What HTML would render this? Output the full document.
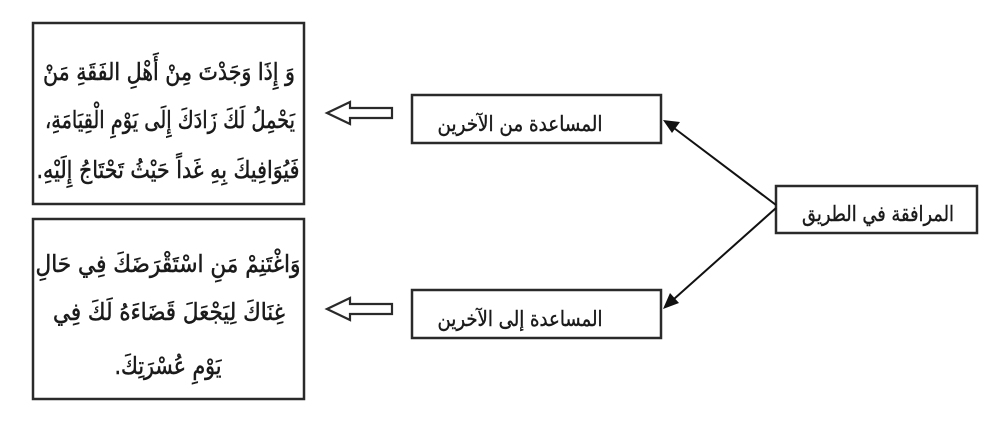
<!DOCTYPE html>
<html><head><meta charset="utf-8"><style>body{margin:0;background:#fff}svg{display:block}</style></head>
<body>
<svg width="1000" height="421" viewBox="0 0 1000 421" xmlns="http://www.w3.org/2000/svg" font-family="'DejaVu Sans', 'Noto Sans CJK SC', sans-serif" fill="#1a1a1a">
<g fill="none" stroke="#2a2a2a" stroke-width="2.5">
<rect x="33" y="23" width="271" height="181"/>
<rect x="33" y="219" width="271" height="180"/>
<rect x="412" y="95" width="249" height="48"/>
<rect x="412" y="290" width="249" height="48"/>
<rect x="776" y="186" width="201" height="47"/>
</g>
<g fill="#fff" stroke="#2a2a2a" stroke-width="2.2">
<path d="M327 113 L350 102 L350 108 L392 108 L392 118 L350 118 L350 124 Z"/>
<path d="M327 309 L350 298 L350 304 L392 304 L392 314 L350 314 L350 320 Z"/>
</g>
<g stroke="#111" stroke-width="2">
<line x1="776" y1="205" x2="674" y2="128"/>
<line x1="776" y1="208" x2="674" y2="299"/>
</g>
<path d="M663 120 L680 122 L672 133 Z" fill="#111"/>
<path d="M663 309 L670 293 L679 303 Z" fill="#111"/>
<g font-size="24" direction="rtl" text-anchor="middle" stroke="#1a1a1a" stroke-width="0.5">
<text x="169" y="80" textLength="252" lengthAdjust="spacingAndGlyphs">وَ إِذَا وَجَدْتَ مِنْ أَهْلِ الفَقَةِ مَنْ</text>
<text x="170" y="128" textLength="250" lengthAdjust="spacingAndGlyphs">يَحْمِلُ لَكَ زَادَكَ إِلَى يَوْمِ الْقِيَامَةِ،</text>
<text x="168" y="178" textLength="263" lengthAdjust="spacingAndGlyphs">فَيُوَافِيكَ بِهِ غَداً حَيْثُ تَحْتَاجُ إِلَيْهِ.</text>
<text x="168" y="272" textLength="265" lengthAdjust="spacingAndGlyphs">وَاغْتَنِمْ مَنِ اسْتَقْرَضَكَ فِي حَالِ</text>
<text x="169" y="320" textLength="232" lengthAdjust="spacingAndGlyphs">غِنَاكَ لِيَجْعَلَ قَضَاءَهُ لَكَ فِي</text>
<text x="168" y="374" textLength="107" lengthAdjust="spacingAndGlyphs">يَوْمِ عُسْرَتِكَ.</text>
</g>
<g font-size="21" direction="rtl" text-anchor="middle" stroke="#1a1a1a" stroke-width="0.4">
<text x="520" y="131" textLength="165" lengthAdjust="spacingAndGlyphs">المساعدة من الآخرين</text>
<text x="520" y="326" textLength="165" lengthAdjust="spacingAndGlyphs">المساعدة إلى الآخرين</text>
<text x="878" y="221" textLength="152" lengthAdjust="spacingAndGlyphs">المرافقة في الطريق</text>
</g>
</svg>
</body></html>
